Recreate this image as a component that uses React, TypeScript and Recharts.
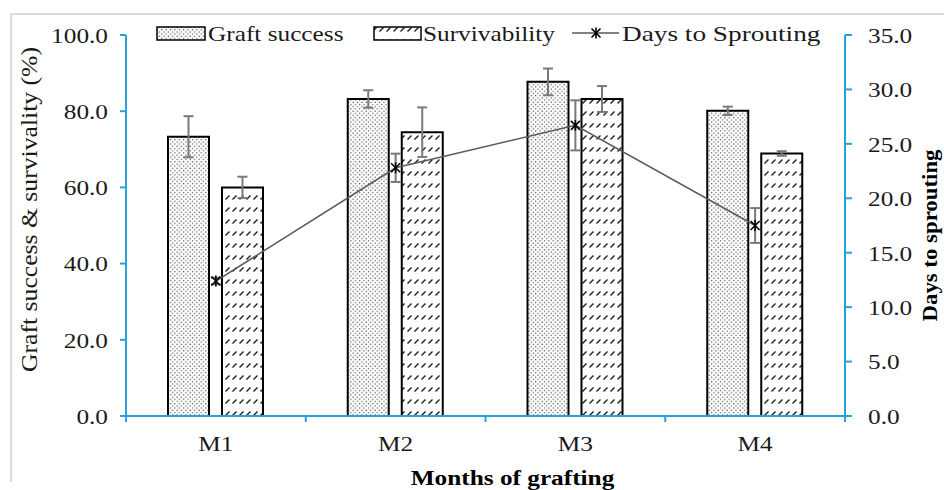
import { ComposedChart, Bar, Line, XAxis, YAxis, ErrorBar, Legend, Label } from "recharts";

const categories = ["M1", "M2", "M3", "M4"];
const graftSuccess = [73.3, 83.2, 87.7, 80.1];
const graftSuccessErr = [5.4, 2.3, 3.5, 1.1];
const survivability = [60.0, 74.5, 83.2, 68.9];
const survivabilityErr = [2.8, 6.5, 3.4, 0.6];
const daysToSprouting = [12.4, 22.8, 26.7, 17.5];
const daysToSproutingErr = [0.3, 1.3, 2.3, 1.6];
const leftTicks = [0, 20, 40, 60, 80, 100];
const rightTicks = [0, 5, 10, 15, 20, 25, 30, 35];

const data = categories.map((month, i) => ({
  month,
  graft: graftSuccess[i],
  graftErr: graftSuccessErr[i],
  surv: survivability[i],
  survErr: survivabilityErr[i],
  days: daysToSprouting[i],
  daysErr: daysToSproutingErr[i],
}));

const FONT = '"Liberation Serif", "Times New Roman", serif';
const AXIS_BLUE = "#27a2dc";
const TEXT = "#1a1a1a";
const SX = 1.15; // glyphs in the source look a bit stretched horizontally

function LeftTick({ x, y, payload }: any) {
  return (
    <text
      transform={`translate(${x},${y}) scale(${SX},1)`}
      textAnchor="end"
      dy="0.355em"
      fontSize={22}
      fontFamily={FONT}
      fill={TEXT}
    >
      {Number(payload.value).toFixed(1)}
    </text>
  );
}

function RightTick({ x, y, payload }: any) {
  return (
    <text
      transform={`translate(${x},${y}) scale(${SX},1)`}
      textAnchor="start"
      dy="0.355em"
      fontSize={22}
      fontFamily={FONT}
      fill={TEXT}
    >
      {Number(payload.value).toFixed(1)}
    </text>
  );
}

// category labels at the centre, tick marks on the band edges (Excel style)
function MonthTick({ x, y, payload, index }: any) {
  const half = payload.offset ?? 90;
  const last = index === categories.length - 1;
  return (
    <g>
      <line x1={x - half} x2={x - half} y1={y - 6} y2={y} stroke={AXIS_BLUE} strokeWidth={2} />
      {last && <line x1={x + half} x2={x + half} y1={y - 6} y2={y} stroke={AXIS_BLUE} strokeWidth={2} />}
      <text
        transform={`translate(${x},${y + 13}) scale(${SX},1)`}
        textAnchor="middle"
        dy="0.71em"
        fontSize={22}
        fontFamily={FONT}
        fill={TEXT}
      >
        {payload.value}
      </text>
    </g>
  );
}

function StarDot({ cx, cy }: any) {
  if (cx == null || cy == null) return null;
  const r = 4.5;
  return (
    <g stroke="#000" strokeWidth={1.6}>
      <line x1={cx - r} y1={cy - r} x2={cx + r} y2={cy + r} />
      <line x1={cx - r} y1={cy + r} x2={cx + r} y2={cy - r} />
      <line x1={cx} y1={cy - r - 1} x2={cx} y2={cy + r + 1} />
    </g>
  );
}

function LegendContent() {
  const textProps = { fontSize: 22, fontFamily: FONT, fill: TEXT };
  return (
    <svg width={944} height={50} style={{ display: "block" }}>
      <rect x={157} y={27} width={48} height={13} fill="url(#dots)" stroke="#000" strokeWidth={1.5} />
      <text transform={`translate(208,41) scale(${SX},1)`} {...textProps}>
        Graft success
      </text>
      <rect x={374} y={27} width={47} height={13} fill="url(#dashes)" stroke="#000" strokeWidth={1.5} />
      <text transform={`translate(423,41) scale(${SX},1)`} {...textProps}>
        Survivability
      </text>
      <line x1={572} x2={619} y1={33} y2={33} stroke="#595959" strokeWidth={1.5} />
      <StarDot cx={596} cy={33} />
      <text transform={`translate(622,41) scale(1.24,1)`} {...textProps}>
        Days to Sprouting
      </text>
    </svg>
  );
}

export default function App() {
  return (
    <div style={{ position: "absolute", left: 0, top: 0, width: 944, height: 490, overflow: "hidden", background: "#fff" }}>
      <div
        style={{
          position: "absolute",
          left: 10,
          top: 13,
          width: 960,
          height: 467,
          borderTop: "2px solid #dadada",
          borderLeft: "2px solid #dadada",
        }}
      />
      <div style={{ position: "absolute", left: 0, top: 0 }}>
        <ComposedChart
          width={944}
          height={490}
          data={data}
          margin={{ top: 35, right: 0, bottom: 0, left: 0 }}
          barSize={41}
          barGap={13}
        >
          <defs>
            <pattern id="dots" width="4.4" height="4.4" patternUnits="userSpaceOnUse">
              <rect width="4.4" height="4.4" fill="#fff" />
              <circle cx="1.1" cy="1.1" r="0.65" fill="#333" />
              <circle cx="3.3" cy="3.3" r="0.65" fill="#333" />
            </pattern>
            <pattern id="dashes" width="7" height="12" patternUnits="userSpaceOnUse">
              <rect width="7" height="12" fill="#fff" />
              <line x1="1.5" y1="7.5" x2="5.5" y2="3.5" stroke="#222" strokeWidth="1.5" />
            </pattern>
          </defs>
          <XAxis
            dataKey="month"
            height={74}
            axisLine={{ stroke: AXIS_BLUE, strokeWidth: 2 }}
            tickLine={false}
            tickSize={6}
            tickMargin={0}
            tick={<MonthTick />}
            interval={0}
          >
            <Label
              content={({ viewBox }: any) => (
                <text
                  transform={`translate(${viewBox.x + viewBox.width / 2 + 27},${viewBox.y + 69}) scale(${SX},1)`}
                  textAnchor="middle"
                  fontSize={22}
                  fontWeight="bold"
                  fontFamily={FONT}
                  fill="#000"
                >
                  Months of grafting
                </text>
              )}
            />
          </XAxis>
          <YAxis
            yAxisId="left"
            orientation="left"
            width={126}
            domain={[0, 100]}
            ticks={leftTicks}
            axisLine={{ stroke: AXIS_BLUE, strokeWidth: 2 }}
            tickLine={{ stroke: AXIS_BLUE, strokeWidth: 2 }}
            tickSize={6}
            tickMargin={12}
            tick={<LeftTick />}
          >
            <Label
              content={({ viewBox }: any) => {
                const cx = viewBox.x + 29;
                const cy = viewBox.y + viewBox.height / 2 - 16;
                return (
                  <text
                    x={cx}
                    y={cy}
                    transform={`rotate(-90 ${cx} ${cy})`}
                    textAnchor="middle"
                    dominantBaseline="central"
                    fontSize={24}
                    fontFamily={FONT}
                    fill={TEXT}
                    textLength={325}
                    lengthAdjust="spacingAndGlyphs"
                  >
                    Graft success &amp; survivality (%)
                  </text>
                );
              }}
            />
          </YAxis>
          <YAxis
            yAxisId="right"
            orientation="right"
            width={99}
            domain={[0, 35]}
            ticks={rightTicks}
            axisLine={{ stroke: AXIS_BLUE, strokeWidth: 2 }}
            tickLine={{ stroke: AXIS_BLUE, strokeWidth: 2 }}
            tickSize={7}
            tickMargin={16}
            tick={<RightTick />}
          >
            <Label
              content={({ viewBox }: any) => {
                const cx = viewBox.x + 84;
                const cy = viewBox.y + viewBox.height / 2 + 10;
                return (
                  <text
                    x={cx}
                    y={cy}
                    transform={`rotate(-90 ${cx} ${cy})`}
                    textAnchor="middle"
                    dominantBaseline="central"
                    fontSize={22}
                    fontWeight="bold"
                    fontFamily={FONT}
                    fill="#000"
                    textLength={172}
                    lengthAdjust="spacingAndGlyphs"
                  >
                    Days to sprouting
                  </text>
                );
              }}
            />
          </YAxis>
          <Legend
            layout="horizontal"
            verticalAlign="middle"
            align="center"
            wrapperStyle={{ top: 0, left: 0, width: 944, height: 50 }}
            content={<LegendContent />}
          />
          <Bar yAxisId="left" dataKey="graft" name="Graft success" fill="url(#dots)" stroke="#000" strokeWidth={2} isAnimationActive={false}>
            <ErrorBar dataKey="graftErr" width={5} stroke="#7a7a7a" strokeWidth={2} direction="y" />
          </Bar>
          <Bar yAxisId="left" dataKey="surv" name="Survivability" fill="url(#dashes)" stroke="#000" strokeWidth={2} isAnimationActive={false}>
            <ErrorBar dataKey="survErr" width={5} stroke="#7a7a7a" strokeWidth={2} direction="y" />
          </Bar>
          <Line
            yAxisId="right"
            dataKey="days"
            name="Days to Sprouting"
            stroke="#5a5a5a"
            strokeWidth={1.5}
            dot={<StarDot />}
            activeDot={false}
            isAnimationActive={false}
          >
            <ErrorBar dataKey="daysErr" width={5} stroke="#7a7a7a" strokeWidth={2} direction="y" />
          </Line>
        </ComposedChart>
      </div>
    </div>
  );
}
